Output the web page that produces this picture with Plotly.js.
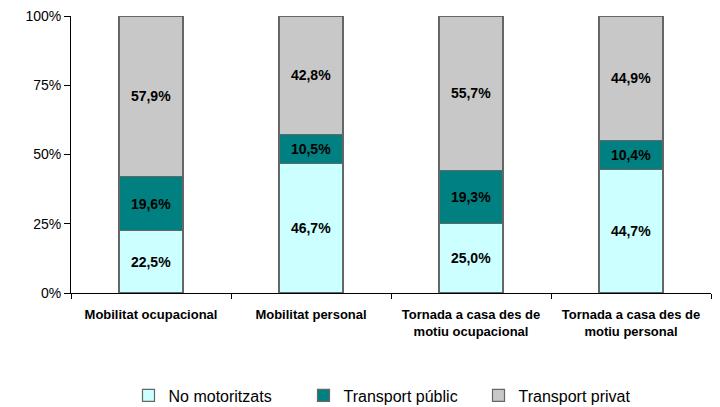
<!DOCTYPE html>
<html>
<head>
<meta charset="utf-8">
<script src="https://cdn.plot.ly/plotly-3.0.1.min.js"></script>
<style>html,body{margin:0;padding:0;background:#fff;}#chart{width:720px;height:407px;}</style>
</head>
<body>
<div id="chart"></div>
<script>
var categories = ["Mobilitat ocupacional", "Mobilitat personal", "Tornada a casa des de<br>motiu ocupacional", "Tornada a casa des de<br>motiu personal"];
var noMotoritzats = [22.5, 46.7, 25.0, 44.7];
var transportPublic = [19.6, 10.5, 19.3, 10.4];
var transportPrivat = [57.9, 42.8, 55.7, 44.9];
var seriesNames = ["No motoritzats", "Transport públic", "Transport privat"];
var tickVals = [0, 25, 50, 75, 100];
var tickText = ["0%", "25%", "50%", "75%", "100%"];

function fmt(v){ return v.toFixed(1).replace('.', ',') + '%'; }
function mk(name, vals, color){
  return {
    type: 'bar', name: name, x: categories, y: vals,
    text: vals.map(fmt), textposition: 'inside', insidetextanchor: 'middle',
    textangle: 0, constraintext: 'none',
    textfont: {family: 'Liberation Sans, Arial, sans-serif', size: 14, color: '#000', weight: 'bold'},
    marker: {color: color, line: {color: '#666666', width: 1.2}},
    hoverinfo: 'none'
  };
}
var data = [
  mk(seriesNames[0], noMotoritzats, '#CCFFFF'),
  mk(seriesNames[1], transportPublic, '#008080'),
  mk(seriesNames[2], transportPrivat, '#C8C8C8')
];
var layout = {
  width: 720, height: 407,
  margin: {l: 71, r: 9, t: 16, b: 114, autoexpand: false},
  barmode: 'stack', bargap: 0.6,
  paper_bgcolor: '#fff', plot_bgcolor: '#fff',
  font: {family: 'Liberation Sans, Arial, sans-serif', size: 13, color: '#000'},
  xaxis: {
    type: 'category', showline: true, linecolor: '#000', linewidth: 1,
    ticks: 'outside', tickson: 'boundaries', ticklen: 5, tickcolor: '#000',
    tickfont: {size: 13, weight: 'bold'}, ticklabelstandoff: 9,
    showgrid: false, zeroline: false, automargin: false
  },
  yaxis: {
    range: [0, 100], tickvals: tickVals, ticktext: tickText,
    showline: true, linecolor: '#000', linewidth: 1,
    ticks: 'outside', ticklen: 6, tickcolor: '#000',
    showgrid: false, zeroline: false, tickfont: {size: 14}, automargin: false
  },
  legend: {
    orientation: 'h', x: 0.5, xanchor: 'center', y: -0.37, yanchor: 'middle',
    font: {size: 16}, traceorder: 'normal', itemwidth: 30,
    entrywidth: 130, entrywidthmode: 'pixels'
  },
  showlegend: true
};
Plotly.newPlot('chart', data, layout, {staticPlot: true});
</script>
</body>
</html>
